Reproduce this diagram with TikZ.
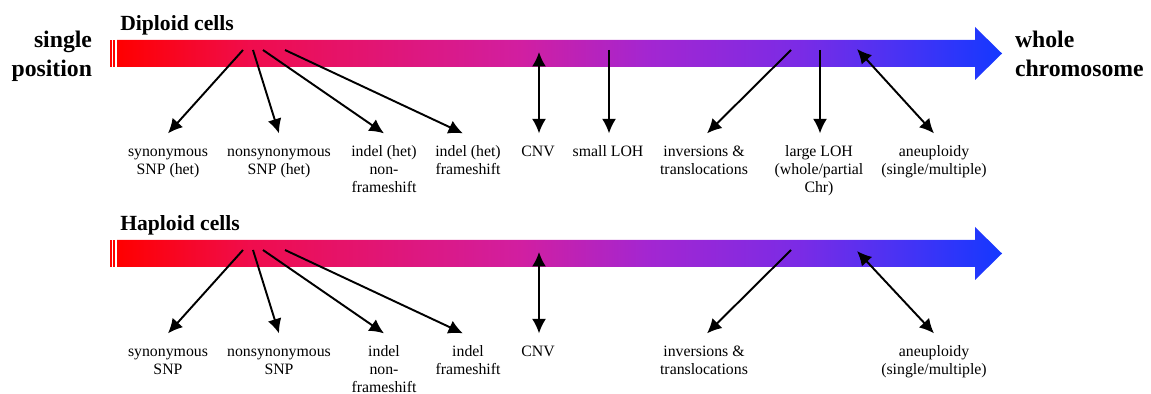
\documentclass[tikz,border=0pt]{standalone}
\usepackage{fontspec}
\setmainfont{Liberation Serif}
\usetikzlibrary{arrows.meta}
\pgfdeclarehorizontalshading{chromo}{100bp}{rgb(0bp)=(1,0,0); rgb(25bp)=(1,0,0); rgb(32.5bp)=(0.94,0.05,0.3); rgb(47.8bp)=(0.82,0.12,0.63); rgb(55bp)=(0.64,0.15,0.82); rgb(63.6bp)=(0.48,0.17,0.9); rgb(69.6bp)=(0.27,0.2,0.96); rgb(75bp)=(0.08,0.22,1); rgb(100bp)=(0.08,0.22,1)}
\newcommand\firstline{\rule{0pt}{13.4pt}}
\newcommand\bigline{\rule{0pt}{10pt}}
\tikzset{
  lab/.style={align=center, anchor=north, inner sep=0pt, outer sep=0pt, font=\fontsize{9}{10.2}\selectfont},
  big/.style={inner sep=0pt, outer sep=0pt, font=\fontsize{13.5}{16.4}\selectfont\bfseries},
  title/.style={anchor=base west, inner sep=0pt, font=\fontsize{12.3}{14}\selectfont\bfseries},
  arr/.style={line width=1.1pt, -{Latex[length=2.9mm,width=2.8mm]}},
  darr/.style={line width=1.1pt, {Latex[length=2.9mm,width=2.8mm]}-{Latex[length=2.9mm,width=2.8mm]}},
  stripe/.style={fill=red, draw=none}
}
\begin{document}
\begin{tikzpicture}[x=0.02cm, y=-0.02cm]
\useasboundingbox (0,0) rectangle (1151,394);
% side labels
\node[big, anchor=north east, align=right] (single) at (92,30.4) {\bigline single\\position};
\node[big, anchor=north west, align=left] (whole) at (1015,30.4) {\bigline whole\\chromosome};
% ---------- Diploid ----------
\node[title] (dip) at (120,30.5) {Diploid cells};
\fill[stripe] (110,40) rectangle (111.7,67);
\fill[stripe] (113,40) rectangle (115,67);
\shade[shading=chromo] (117,40) -- (975,40) -- (975,27) -- (1002,53.5) -- (975,80) -- (975,67) -- (117,67) -- cycle;
\coordinate (d1) at (243,50);
\coordinate (d2) at (253,50);
\coordinate (d3) at (263,50);
\coordinate (d4) at (285,50);
\coordinate (d5) at (539,52);
\coordinate (d6) at (609,50);
\coordinate (d7) at (791,50);
\coordinate (d8) at (820,50);
\coordinate (d9) at (857,49);
\node[lab] (t1) at (168,133.4) {\firstline synonymous\\SNP (het)};
\node[lab] (t2) at (279,133.4) {\firstline nonsynonymous\\SNP (het)};
\node[lab] (t3) at (384,133.4) {\firstline indel (het)\\non-\\frameshift};
\node[lab] (t4) at (468,133.4) {\firstline indel (het)\\frameshift};
\node[lab] (t5) at (538,133.4) {\firstline CNV};
\node[lab] (t6) at (608,133.4) {\firstline small LOH};
\node[lab] (t7) at (704,133.4) {\firstline inversions \&\\translocations};
\node[lab] (t8) at (819,133.4) {\firstline large LOH\\(whole/partial\\Chr)};
\node[lab] (t9) at (934,133.4) {\firstline aneuploidy\\(single/multiple)};
\draw[arr] (d1) -- (t1.north);
\draw[arr] (d2) -- (t2.north);
\draw[arr] (d3) -- (t3.north);
\draw[arr] (d4) -- ([xshift=-0.1cm]t4.north);
\draw[darr] (d5) -- (d5 |- t5.north);
\draw[arr] (d6) -- (d6 |- t6.north);
\draw[arr] (d7) -- ([xshift=0.06cm]t7.north);
\draw[arr] (d8) -- (d8 |- t8.north);
\draw[darr] (d9) -- (t9.north);
% ---------- Haploid ----------
\node[title] (hap) at (120,230.7) {Haploid cells};
\fill[stripe] (110,240) rectangle (111.7,267);
\fill[stripe] (113,240) rectangle (115,267);
\shade[shading=chromo] (117,240) -- (975,240) -- (975,227) -- (1002,253.5) -- (975,280) -- (975,267) -- (117,267) -- cycle;
\coordinate (h1) at (243,250);
\coordinate (h2) at (253,250);
\coordinate (h3) at (263,250);
\coordinate (h4) at (285,250);
\coordinate (h5) at (539,252);
\coordinate (h7) at (791,250);
\coordinate (h9) at (857,251);
\node[lab] (b1) at (168,333.4) {\firstline synonymous\\SNP};
\node[lab] (b2) at (279,333.4) {\firstline nonsynonymous\\SNP};
\node[lab] (b3) at (384,333.4) {\firstline indel\\non-\\frameshift};
\node[lab] (b4) at (468,333.4) {\firstline indel\\frameshift};
\node[lab] (b5) at (538,333.4) {\firstline CNV};
\node[lab] (b7) at (704,333.4) {\firstline inversions \&\\translocations};
\node[lab] (b9) at (934,333.4) {\firstline aneuploidy\\(single/multiple)};
\draw[arr] (h1) -- (b1.north);
\draw[arr] (h2) -- (b2.north);
\draw[arr] (h3) -- (b3.north);
\draw[arr] (h4) -- ([xshift=-0.1cm]b4.north);
\draw[darr] (h5) -- (h5 |- b5.north);
\draw[arr] (h7) -- ([xshift=0.06cm]b7.north);
\draw[darr] (h9) -- (b9.north);
\end{tikzpicture}
\end{document}
